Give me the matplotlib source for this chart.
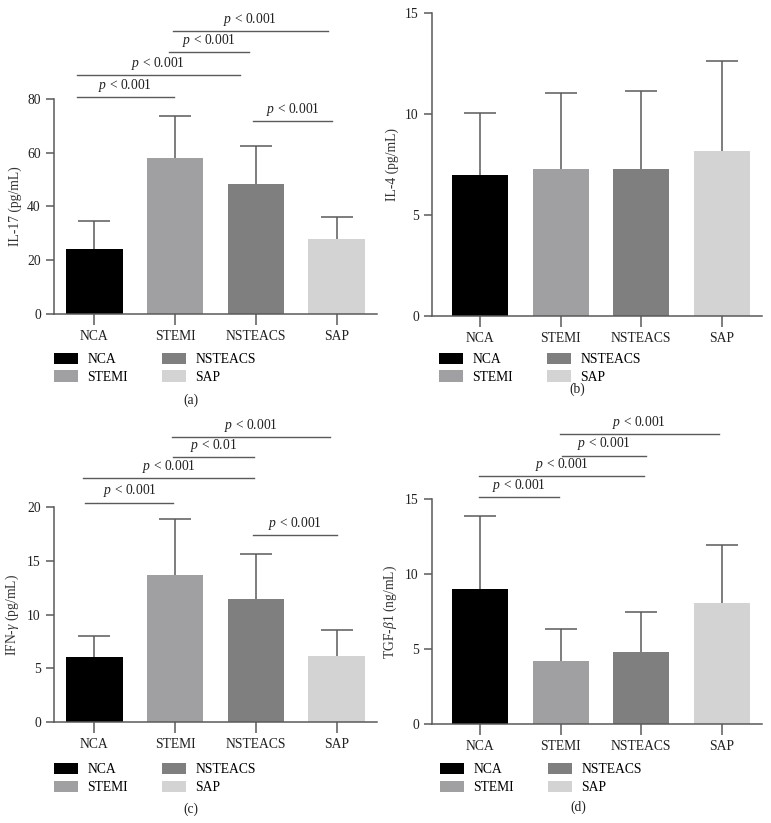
import numpy as np
import matplotlib
matplotlib.use("Agg")
import matplotlib.pyplot as plt
from matplotlib.patches import Patch

plt.rcParams["font.family"] = ["Liberation Serif", "DejaVu Serif"]
plt.rcParams["mathtext.fontset"] = "custom"
plt.rcParams["mathtext.rm"] = "Liberation Serif"
plt.rcParams["mathtext.it"] = "Liberation Serif:italic"
plt.rcParams["font.size"] = 9.8

groups = ["NCA", "STEMI", "NSTEACS", "SAP"]
colors = ["#000000", "#a0a0a3", "#7f7f7f", "#d3d3d3"]

il17_mean = [24.2, 58.0, 48.3, 27.8]
il17_sd = [10.3, 15.5, 14.2, 8.2]
il4_mean = [7.0, 7.28, 7.28, 8.17]
il4_sd = [3.05, 3.76, 3.86, 4.45]
ifn_mean = [6.05, 13.7, 11.4, 6.15]
ifn_sd = [1.95, 5.2, 4.2, 2.4]
tgf_mean = [9.0, 4.2, 4.82, 8.07]
tgf_sd = [4.87, 2.15, 2.63, 3.86]

# significance brackets: (x start, x end, height, label)
il17_sig = [(-0.22, 0.99, 80.7, "< 0.001"), (-0.22, 1.80, 88.9, "< 0.001"),
            (0.92, 1.92, 97.5, "< 0.001"), (0.97, 2.89, 105.3, "< 0.001"),
            (1.97, 2.94, 71.8, "< 0.001")]
ifn_sig = [(-0.11, 0.98, 20.4, "< 0.001"), (-0.14, 1.98, 22.7, "< 0.001"),
           (0.98, 1.98, 24.65, "< 0.01"), (0.96, 2.92, 26.5, "< 0.001"),
           (1.96, 3.0, 17.4, "< 0.001")]
tgf_sig = [(-0.02, 0.98, 15.13, "< 0.001"), (-0.02, 2.04, 16.53, "< 0.001"),
           (1.02, 2.06, 17.87, "< 0.001"), (0.99, 2.96, 19.33, "< 0.001")]

grey = "#5a5a5a"

panels = [
    dict(mean=il17_mean, sd=il17_sd, ylim=80, step=20, ylabel="IL-17 (pg/mL)",
         sig=il17_sig, rect=[0.070, 0.6185, 0.419, 0.2612], xl=-0.5,
         leg=(0.070, 0.571), cap="(a)", cappos=(0.2477, 0.514)),
    dict(mean=il4_mean, sd=il4_sd, ylim=15, step=5, ylabel="IL-4 (pg/mL)",
         sig=[], rect=[0.5603, 0.616, 0.428, 0.368], xl=-0.6,
         leg=(0.5694, 0.571), cap="(b)", cappos=(0.7484, 0.5273)),
    dict(mean=ifn_mean, sd=ifn_sd, ylim=20, step=5, ylabel=r"IFN-$\gamma$ (pg/mL)",
         sig=ifn_sig, rect=[0.070, 0.1227, 0.419, 0.2612], xl=-0.5,
         leg=(0.070, 0.0728), cap="(c)", cappos=(0.2477, 0.017)),
    dict(mean=tgf_mean, sd=tgf_sd, ylim=15, step=5, ylabel=r"TGF-$\beta$1 (ng/mL)",
         sig=tgf_sig, rect=[0.5603, 0.1203, 0.428, 0.2734], xl=-0.6,
         leg=(0.5707, 0.0728), cap="(d)", cappos=(0.7497, 0.0194)),
]

fig = plt.figure(figsize=(7.71, 8.23), dpi=100)

for p in panels:
    ax = fig.add_axes(p["rect"])
    x = np.arange(len(groups))
    # error bars sit behind the bars so only the upper half shows
    ax.errorbar(x, p["mean"], yerr=p["sd"], fmt="none", ecolor=grey,
                elinewidth=1.1, capsize=11.5, capthick=1.1, zorder=1)
    ax.bar(x, p["mean"], width=0.7, color=colors, zorder=2)
    ax.set_xlim(p["xl"], 3.5)
    ax.set_ylim(0, p["ylim"])
    ax.set_yticks(np.arange(0, p["ylim"] + 1, p["step"]))
    ax.set_xticks(x)
    ax.set_xticklabels(groups)
    ax.set_ylabel(p["ylabel"], color="#333333")
    for s in ["top", "right"]:
        ax.spines[s].set_visible(False)
    for s in ["left", "bottom"]:
        ax.spines[s].set_color(grey)
        ax.spines[s].set_linewidth(1.1)
    ax.tick_params(axis="both", colors=grey, labelcolor="#222222", width=1.1,
                   direction="out")
    ax.tick_params(axis="y", length=6)
    ax.tick_params(axis="x", length=8)

    for x0, x1, h, lab in p["sig"]:
        ax.plot([x0, x1], [h, h], color=grey, lw=1.0, clip_on=False)
        ax.annotate("$p$ " + lab, xy=((x0 + x1) / 2, h), xytext=(0, 2.5),
                    textcoords="offset points", ha="center", va="bottom",
                    color="#222222", annotation_clip=False)

    handles = [Patch(facecolor=c, edgecolor="none") for c in colors]
    ax.legend(handles, groups, ncol=2, frameon=False, loc="upper left",
              bbox_to_anchor=p["leg"], bbox_transform=fig.transFigure,
              borderpad=0, borderaxespad=0, handlelength=1.75, handleheight=0.9,
              handletextpad=0.7, columnspacing=2.5, labelspacing=0.3)
    fig.text(p["cappos"][0], p["cappos"][1], p["cap"], ha="center", va="center",
             color="#222222")

fig.savefig("out.png", dpi=100)
